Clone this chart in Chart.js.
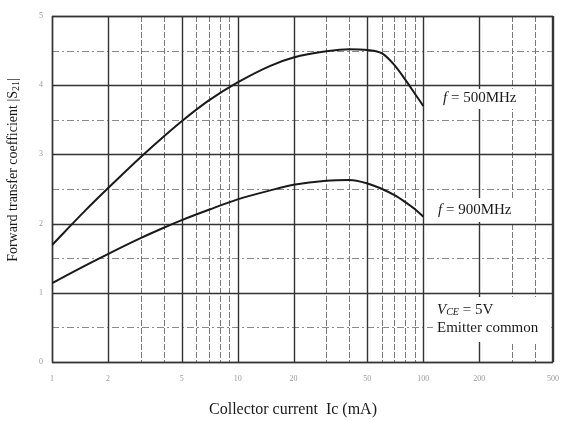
<!DOCTYPE html>
<html>
<head>
<meta charset="utf-8">
<title>Forward transfer coefficient vs collector current</title>
<script src="https://cdn.jsdelivr.net/npm/chart.js@4/dist/chart.umd.min.js"></script>
<style>
  html, body { margin: 0; padding: 0; background: #fff; }
  #chart { display: block; }
</style>
</head>
<body>
<canvas id="chart" width="566" height="421"></canvas>
<script>
// Collector current Ic (mA) and |S21|
const currentMA = [1, 1.5, 2, 3, 4, 5, 7, 10, 15, 20, 30, 40, 50, 60, 70, 80, 90, 100];
const s21At500 = [1.69, 2.18, 2.51, 2.96, 3.26, 3.48, 3.78, 4.04, 4.28, 4.40, 4.49, 4.52, 4.51, 4.46, 4.29, 4.08, 3.88, 3.70];
const s21At900 = [1.14, 1.39, 1.56, 1.79, 1.94, 2.05, 2.20, 2.35, 2.48, 2.56, 2.62, 2.63, 2.58, 2.50, 2.41, 2.31, 2.21, 2.10];

// Axis ticks and paper grid
const xTickValues = [1, 2, 5, 10, 20, 50, 100, 200, 500];
const xMinorLines = [3, 4, 6, 7, 8, 9, 30, 40, 60, 70, 80, 90, 300, 400];
const yTickValues = [0, 1, 2, 3, 4, 5];
const yMinorLines = [0.5, 1.5, 2.5, 3.5, 4.5];

const SERIF = "'Liberation Serif', 'DejaVu Serif', serif";
const INK = '#1a1a1a';

/* Graph-paper grid, drawn under the curves */
const paperGrid = {
    id: 'paperGrid',
    beforeDatasetsDraw(chart) {
        const { ctx, chartArea: a, scales: { x, y } } = chart;
        ctx.save();

        // minor lines: light dash-dot
        ctx.strokeStyle = '#8a8a8a';
        ctx.lineWidth = 1;
        ctx.setLineDash([7, 3, 2, 3]);
        yMinorLines.forEach(v => {
            const py = Math.round(y.getPixelForValue(v)) + 0.5;
            ctx.beginPath(); ctx.moveTo(a.left, py); ctx.lineTo(a.right, py); ctx.stroke();
        });
        ctx.setLineDash([6, 2]);
        ctx.strokeStyle = '#777';
        xMinorLines.forEach(v => {
            const px = Math.round(x.getPixelForValue(v)) + 0.5;
            ctx.beginPath(); ctx.moveTo(px, a.top); ctx.lineTo(px, a.bottom); ctx.stroke();
        });

        // major lines: solid, darker
        ctx.setLineDash([]);
        ctx.strokeStyle = '#333';
        ctx.lineWidth = 1.4;
        yTickValues.forEach(v => {
            const py = Math.round(y.getPixelForValue(v)) + 0.5;
            ctx.beginPath(); ctx.moveTo(a.left, py); ctx.lineTo(a.right, py); ctx.stroke();
        });
        xTickValues.forEach(v => {
            const px = Math.round(x.getPixelForValue(v)) + 0.5;
            ctx.beginPath(); ctx.moveTo(px, a.top); ctx.lineTo(px, a.bottom); ctx.stroke();
        });

        // label boxes blank out the grid behind the notes
        ctx.fillStyle = '#fff';
        ctx.fillRect(a.left + 381, 89, 100, 20);
        ctx.fillRect(a.left + 381, 198, 100, 24);
        ctx.fillRect(a.left + 381, 297, 118, 45);

        // outer frame stays on top of the blanks
        ctx.strokeRect(a.left + 0.5, a.top + 0.5, a.right - a.left - 1, a.bottom - a.top);

        ctx.fillStyle = INK;
        ctx.textBaseline = 'middle';
        ctx.textAlign = 'left';

        const note = (parts, x0, y0) => {
            let cx = x0;
            parts.forEach(([txt, font, dy]) => {
                ctx.font = font;
                ctx.fillText(txt, cx, y0 + (dy || 0));
                cx += ctx.measureText(txt).width;
            });
        };
        note([['f', 'italic 15px ' + SERIF], [' = 500MHz', '15px ' + SERIF]], 443, 98);
        note([['f', 'italic 15px ' + SERIF], [' = 900MHz', '15px ' + SERIF]], 438, 210);
        note([['V', 'italic 15px ' + SERIF], ['CE', 'italic 10px ' + SERIF, 2], [' = 5V', '15px ' + SERIF]], 437, 310);
        note([['Emitter common', '15px ' + SERIF]], 437, 328);

        ctx.restore();
    },
    afterDraw(chart) {
        const { ctx } = chart;
        ctx.save();
        ctx.fillStyle = INK;
        ctx.textBaseline = 'middle';

        // x axis caption
        ctx.font = '16px ' + SERIF;
        ctx.textAlign = 'center';
        ctx.fillText('Collector current  Ic (mA)', 293, 410);

        // y axis caption, rotated, with subscript 21
        ctx.translate(13, 170);
        ctx.rotate(-Math.PI / 2);
        const main = 'Forward transfer coefficient |S';
        ctx.font = '14px ' + SERIF;
        const w1 = ctx.measureText(main).width;
        ctx.font = '10px ' + SERIF;
        const w2 = ctx.measureText('21').width;
        ctx.font = '14px ' + SERIF;
        const w3 = ctx.measureText('|').width;
        let cx = -(w1 + w2 + w3) / 2;
        ctx.textAlign = 'left';
        ctx.fillText(main, cx, 0);
        cx += w1;
        ctx.font = '10px ' + SERIF;
        ctx.fillText('21', cx, 3);
        cx += w2;
        ctx.font = '14px ' + SERIF;
        ctx.fillText('|', cx, 0);
        ctx.restore();
    }
};

const curve = (label, data) => ({
    label: label,
    data: currentMA.map((c, i) => ({ x: c, y: data[i] })),
    borderColor: INK,
    borderWidth: 2,
    pointRadius: 0,
    fill: false,
    cubicInterpolationMode: 'monotone'
});

new Chart(document.getElementById('chart'), {
    type: 'line',
    data: {
        datasets: [
            curve('f = 500MHz', s21At500),
            curve('f = 900MHz', s21At900)
        ]
    },
    options: {
        responsive: false,
        animation: false,
        layout: { padding: { top: 16, right: 13, left: 0, bottom: 0 } },
        plugins: {
            legend: { display: false },
            tooltip: { enabled: false }
        },
        scales: {
            x: {
                type: 'logarithmic',
                min: 1,
                max: 500,
                afterBuildTicks(scale) {
                    scale.ticks = xTickValues.map(v => ({ value: v }));
                },
                afterFit(scale) {
                    scale.height = 59;
                    scale.paddingRight = 0;
                    scale.paddingLeft = 0;
                },
                grid: { display: false, drawTicks: false },
                border: { display: false },
                ticks: {
                    autoSkip: false,
                    maxRotation: 0,
                    padding: 12,
                    color: '#9a9a9a',
                    font: { family: SERIF, size: 8 },
                    callback: v => String(v)
                }
            },
            y: {
                min: 0,
                max: 5,
                afterBuildTicks(scale) {
                    scale.ticks = yTickValues.map(v => ({ value: v }));
                },
                afterFit(scale) { scale.width = 52; },
                grid: { display: false, drawTicks: false },
                border: { display: false },
                ticks: {
                    padding: 9,
                    color: '#9a9a9a',
                    font: { family: SERIF, size: 8 }
                }
            }
        }
    },
    plugins: [paperGrid]
});
</script>
</body>
</html>
